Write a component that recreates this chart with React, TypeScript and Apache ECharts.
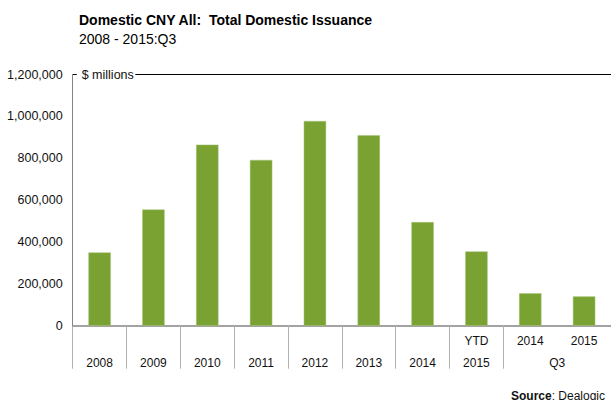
import React, { useEffect, useRef } from "react";
import * as echarts from "echarts";

const categories = ["2008", "2009", "2010", "2011", "2012", "2013", "2014", "YTD 2015", "Q3 2014", "Q3 2015"];
const issuance = [350000, 555000, 865000, 792000, 978000, 910000, 495000, 355000, 155000, 140000];
const labelTopRow = ["", "", "", "", "", "", "", "YTD", "2014", "2015"];
const labelBottomRow = ["2008", "2009", "2010", "2011", "2012", "2013", "2014", "2015", "{q|Q3}", ""];
const yMin = 0;
const yMax = 1200000;
const yInterval = 200000;
const titleText = "Domestic CNY All:  Total Domestic Issuance";
const subtitleText = "2008 - 2015:Q3";
const unitText = "$ millions";

const FONT = "'Liberation Sans', Arial, sans-serif";

export default function App() {
  const ref = useRef<HTMLDivElement>(null);
  useEffect(() => {
    if (!ref.current) return;
    const chart = echarts.init(ref.current, null, { renderer: "svg" });
    chart.setOption({
      animation: false,
      backgroundColor: "#fff",
      textStyle: { fontFamily: FONT },
      title: [
        {
          text: titleText,
          left: 79,
          top: 13,
          padding: 0,
          textStyle: { fontSize: 14, fontWeight: "bold", color: "#000", fontFamily: FONT },
        },
        {
          text: subtitleText,
          left: 79,
          top: 32,
          padding: 0,
          textStyle: { fontSize: 14, fontWeight: "normal", color: "#000", fontFamily: FONT },
        },
      ],
      grid: { left: 72.7, top: 74.5, width: 542, height: 251.2, containLabel: false },
      xAxis: {
        type: "category",
        data: categories,
        boundaryGap: true,
        axisLine: { show: true, lineStyle: { color: "#858585", width: 1.5 } },
        axisTick: {
          show: true,
          length: 43,
          interval: (index: number) => index !== 9,
          lineStyle: { color: "#b0b0b0", width: 1 },
        },
        axisLabel: {
          interval: 0,
          margin: 5,
          fontSize: 12,
          color: "#111",
          lineHeight: 21.5,
          fontFamily: FONT,
          formatter: (_v: string, i: number) =>
            (labelTopRow[i] || "\u00a0") + "\n" + (labelBottomRow[i] || "\u00a0"),
          rich: {
            q: { padding: [0, 0, 0, 54], fontSize: 12, color: "#111", lineHeight: 21.5, fontFamily: FONT },
          },
        },
        splitLine: { show: false },
      },
      yAxis: {
        type: "value",
        min: yMin,
        max: yMax,
        interval: yInterval,
        z: 10,
        name: "{n|" + unitText + "}",
        nameLocation: "end",
        nameGap: 0,
        nameTextStyle: {
          align: "left",
          verticalAlign: "middle",
          padding: [0, 0, 0, 4],
          rich: {
            n: {
              backgroundColor: "#fff",
              padding: [2, 1.5, 2, 5],
              fontSize: 12.5,
              color: "#111",
              fontFamily: FONT,
            },
          },
        },
        axisLine: { show: true, lineStyle: { color: "#858585", width: 1 } },
        axisTick: { show: false },
        splitLine: { show: false },
        axisLabel: {
          margin: 10,
          fontSize: 12.5,
          color: "#111",
          fontFamily: FONT,
          formatter: (v: number) => v.toLocaleString("en-US"),
        },
      },
      series: [
        {
          type: "bar",
          data: issuance,
          barWidth: 22.4,
          itemStyle: { color: "#79A232", borderColor: "#a9c77a", borderWidth: 0.5 },
          markLine: {
            silent: true,
            symbol: "none",
            label: { show: false },
            lineStyle: { color: "#000", width: 1, type: "solid" },
            data: [{ yAxis: yMax }],
          },
        },
      ],
      graphic: [
        {
          type: "text",
          left: 511,
          top: 390,
          style: {
            text: "{b|Source}: Dealogic",
            font: "12px " + FONT,
            fill: "#111",
            rich: { b: { fontWeight: "bold", fontSize: 12, fontFamily: FONT, fill: "#111" } },
          },
        },
      ],
    });
    return () => chart.dispose();
  }, []);
  return <div ref={ref} style={{ position: "fixed", left: 0, top: 0, width: 611, height: 400 }} />;
}
